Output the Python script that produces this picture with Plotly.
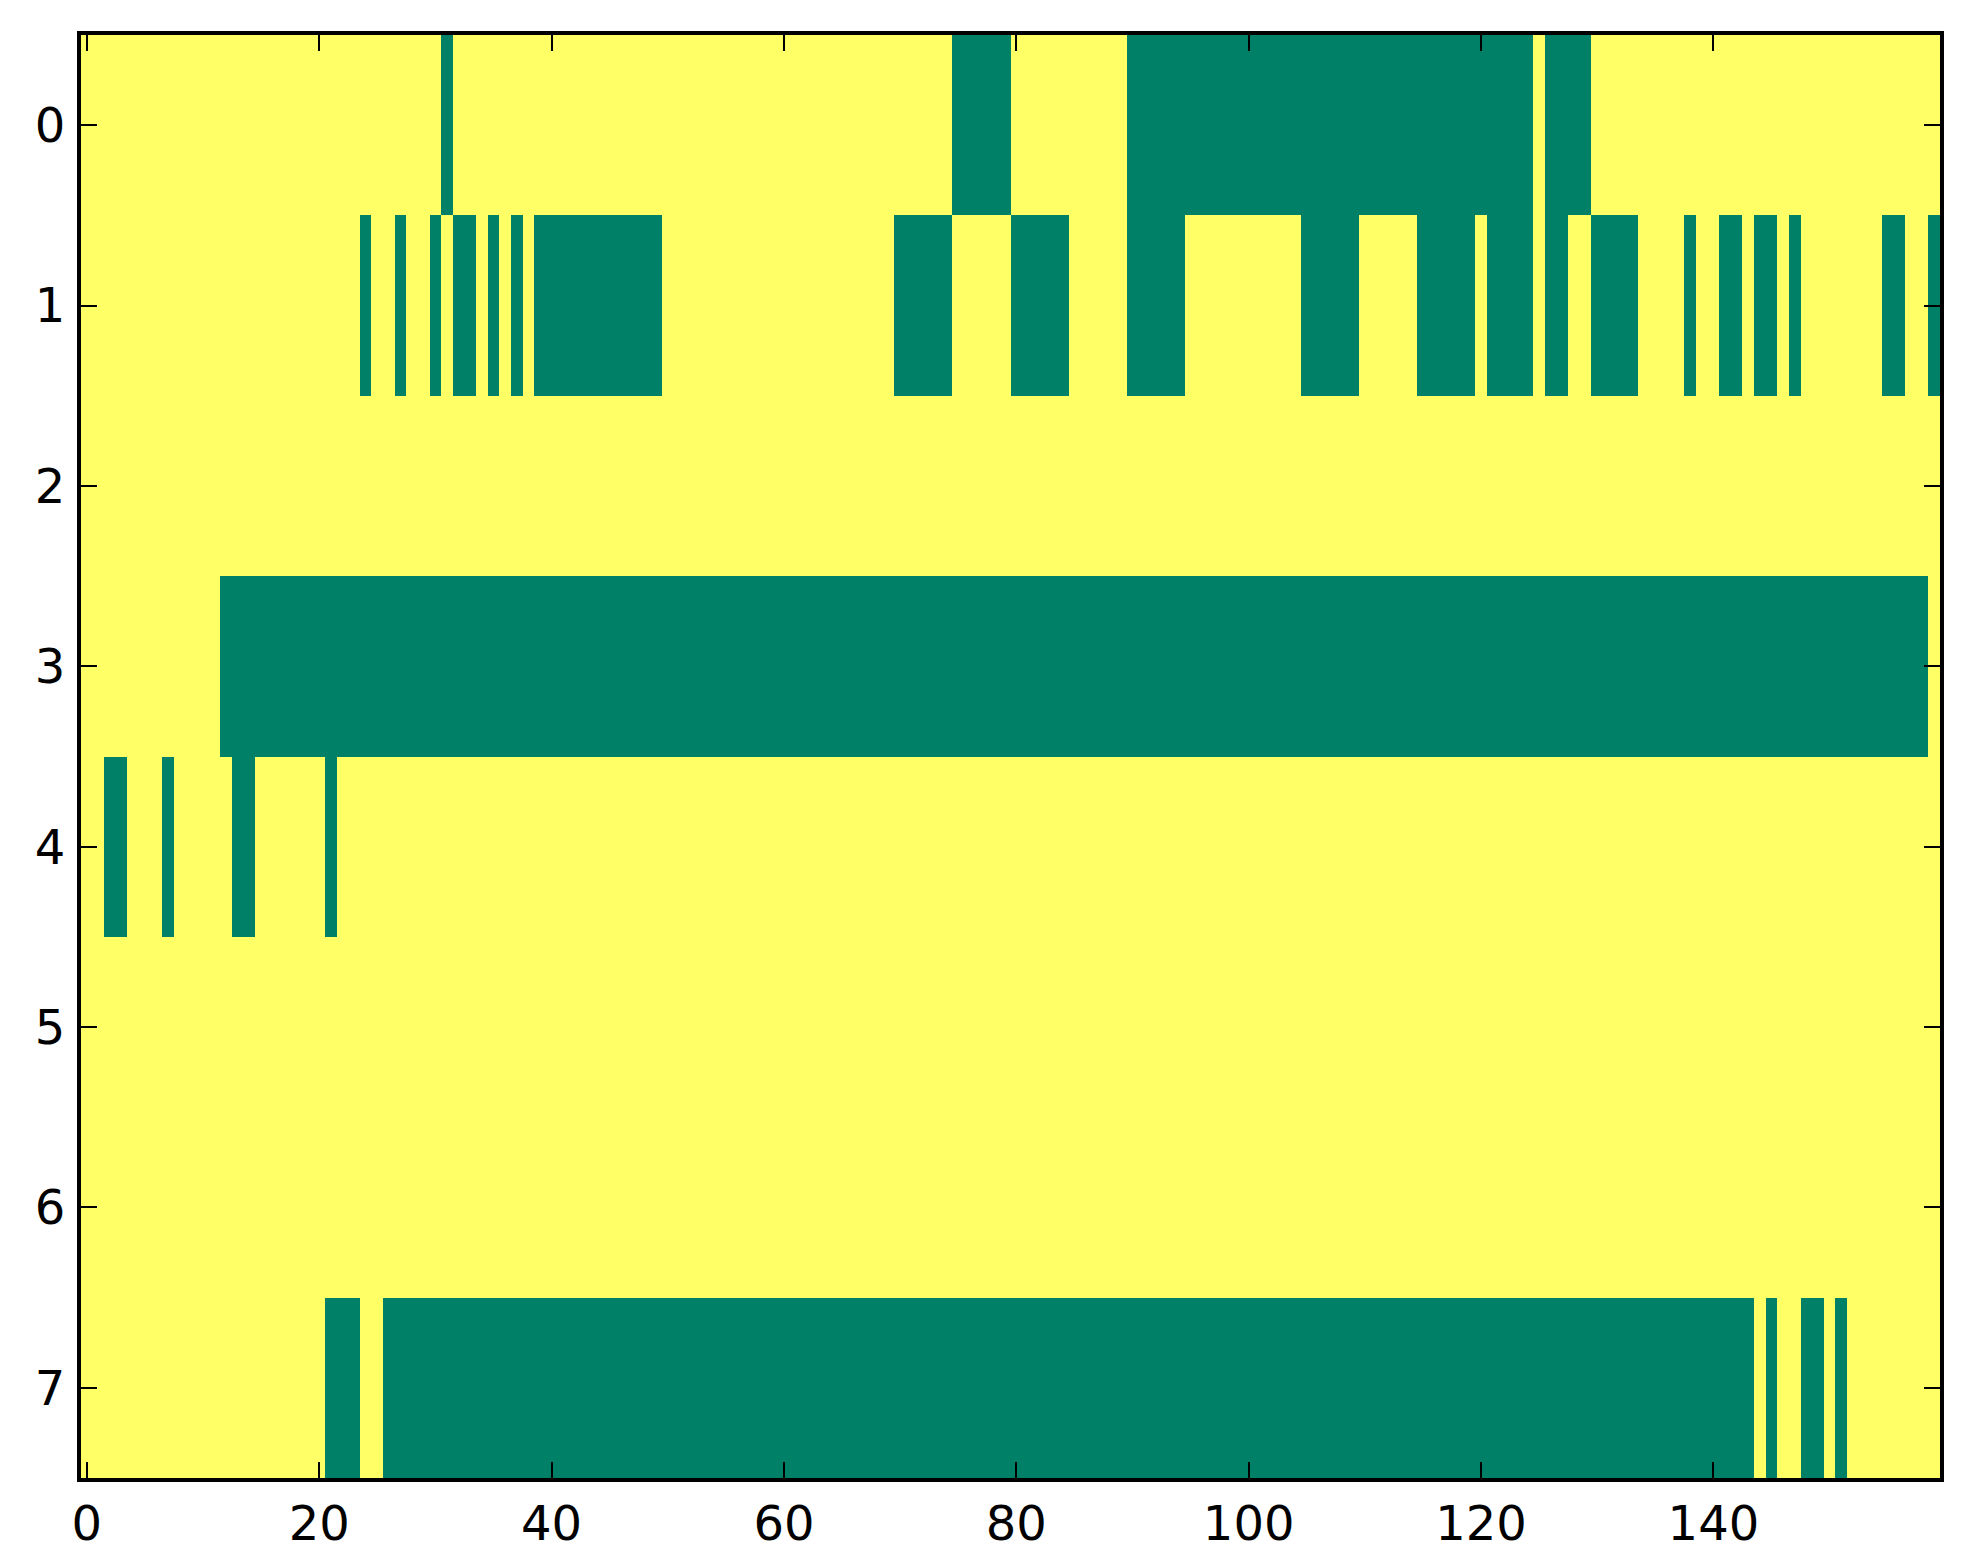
import numpy as np
import plotly.graph_objects as go

# 8 rows x 160 columns, value 1 = yellow, 0 = green
n_rows = 8
n_cols = 160

# green runs per row, as (first column, last column)
row0_green = [(31, 31), (75, 79), (90, 124), (126, 129)]
row1_green = [(24, 24), (27, 27), (30, 30), (32, 33), (35, 35), (37, 37), (39, 49),
              (70, 74), (80, 84), (90, 94), (105, 109), (115, 119), (121, 124),
              (126, 127), (130, 133), (138, 138), (141, 142), (144, 145), (147, 147),
              (155, 156), (159, 159)]
row2_green = []
row3_green = [(12, 158)]
row4_green = [(2, 3), (7, 7), (13, 14), (21, 21)]
row5_green = []
row6_green = []
row7_green = [(21, 23), (26, 143), (145, 145), (148, 149), (151, 151)]

x_ticks = [0, 20, 40, 60, 80, 100, 120, 140]
y_ticks = [0, 1, 2, 3, 4, 5, 6, 7]

GREEN = "rgb(0,128,102)"
YELLOW = "rgb(255,255,102)"


def build_matrix():
    rows = [row0_green, row1_green, row2_green, row3_green,
            row4_green, row5_green, row6_green, row7_green]
    z = np.ones((n_rows, n_cols))
    for r, runs in enumerate(rows):
        for a, b in runs:
            z[r, a:b + 1] = 0
    return z


def create_chart(z):
    fig = go.Figure()
    fig.add_trace(go.Heatmap(z=z, x=list(range(n_cols)), y=list(range(n_rows)),
                             colorscale=[[0, GREEN], [1, YELLOW]],
                             zmin=0, zmax=1, showscale=False, hoverinfo="skip"))

    axis_style = dict(showline=True, linecolor="black", linewidth=4, mirror="allticks",
                      ticks="inside", ticklen=16, tickwidth=2, tickcolor="black",
                      showgrid=False, zeroline=False,
                      tickfont=dict(family="DejaVu Sans", size=48, color="black"))

    fig.update_xaxes(range=[-0.5, n_cols - 0.5], tickvals=x_ticks,
                     ticklabelstandoff=0, **axis_style)
    fig.update_yaxes(range=[n_rows - 0.5, -0.5], tickvals=y_ticks,
                     ticklabelstandoff=2, **axis_style)

    fig.update_layout(width=1963, height=1564,
                      margin=dict(l=73, r=31, t=27, b=94),
                      paper_bgcolor="white", plot_bgcolor="white")
    return fig


def main():
    z = build_matrix()
    fig = create_chart(z)
    fig.write_html("out.html")


if __name__ == "__main__":
    main()
